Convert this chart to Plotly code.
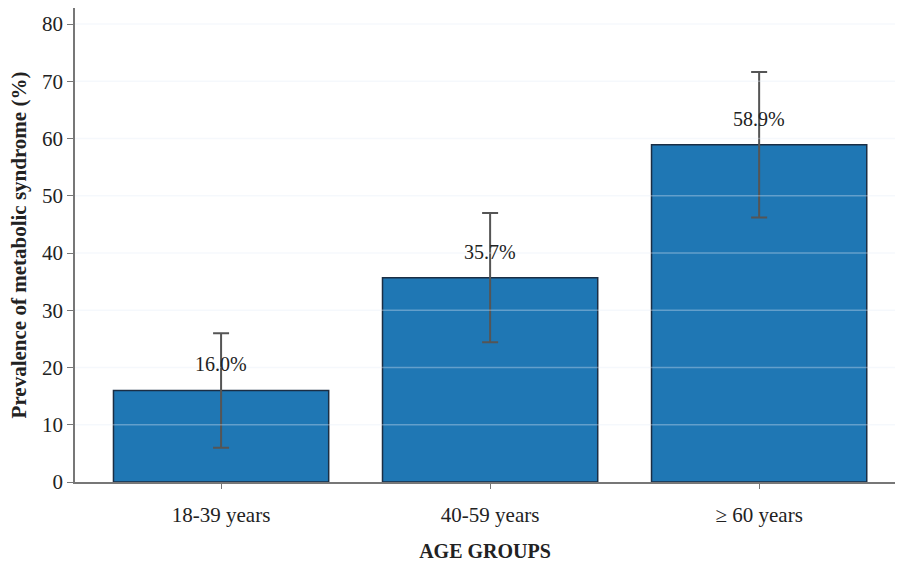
import plotly.graph_objects as go

categories = ["18-39 years", "40-59 years", "≥ 60 years"]
prevalence = [16.0, 35.7, 58.9]
error_half = [10.0, 11.3, 12.7]
labels = ["16.0%", "35.7%", "58.9%"]
y_ticks = [0, 10, 20, 30, 40, 50, 60, 70, 80]
grid_values = [10, 20, 30, 40, 50, 60, 70, 80]

SERIF = "Liberation Serif, Times New Roman, serif"

fig = go.Figure()
fig.add_trace(go.Bar(
    x=categories,
    y=prevalence,
    width=0.8,
    marker=dict(color="#1f77b4", line=dict(color="#1b2e44", width=1.5)),
    error_y=dict(type="data", array=error_half, visible=True,
                 color="#555555", thickness=2, width=8),
    showlegend=False,
    hoverinfo="skip",
))

for cat, val, lab in zip(categories, prevalence, labels):
    fig.add_annotation(x=cat, y=val, text=lab, showarrow=False,
                       yanchor="bottom", yshift=13,
                       font=dict(family=SERIF, size=20, color="#222222"))

for g in grid_values:
    fig.add_shape(type="line", xref="paper", x0=0, x1=1, yref="y", y0=g, y1=g,
                  layer="above",
                  line=dict(color="rgba(225,235,245,0.35)", width=1.5))

fig.update_layout(
    width=897, height=568,
    margin=dict(l=75, r=2, t=8, b=86),
    plot_bgcolor="white", paper_bgcolor="white",
    bargap=0.2,
    font=dict(family=SERIF, color="#222222"),
    xaxis=dict(
        range=[-0.543, 2.505],
        showline=True, linecolor="#777777", linewidth=1.5,
        ticks="outside", ticklen=5, tickcolor="#777777",
        tickfont=dict(family=SERIF, size=21, color="#222222"),
        ticklabelstandoff=8,
        title=dict(text="<b>AGE GROUPS</b>", font=dict(family=SERIF, size=20, color="#222222"),
                   standoff=18),
        showgrid=False, zeroline=False,
    ),
    yaxis=dict(
        range=[0, 82.8],
        tickvals=y_ticks,
        showline=True, linecolor="#777777", linewidth=1.5,
        ticks="outside", ticklen=6, tickcolor="#777777",
        tickfont=dict(family=SERIF, size=21, color="#222222"),
        title=dict(text="<b>Prevalence of metabolic syndrome (%)</b>",
                   font=dict(family=SERIF, size=21, color="#222222"), standoff=10),
        showgrid=False, zeroline=False,
    ),
)

fig.write_html("out.html",
               config={"displayModeBar": False},
               post_script="document.body.style.margin='0';document.body.style.overflow='hidden';")
